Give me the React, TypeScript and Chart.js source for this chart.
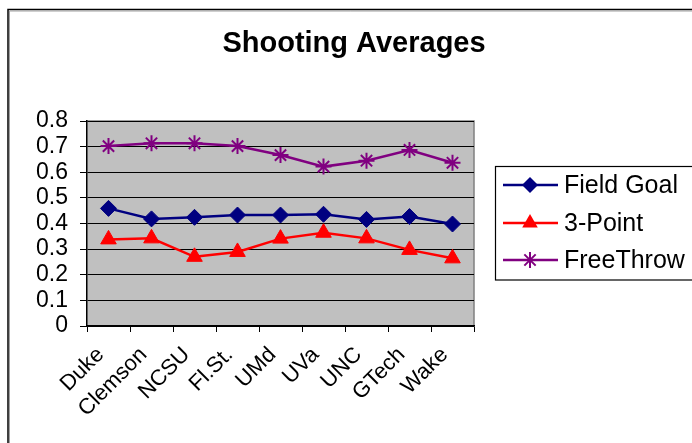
import React, { useEffect, useRef } from "react";
import { Chart, registerables } from "chart.js";

Chart.register(...registerables);

const categories = ["Duke", "Clemson", "NCSU", "Fl.St.", "UMd", "UVa", "UNC", "GTech", "Wake"];
const fieldGoal = [0.459, 0.418, 0.424, 0.433, 0.433, 0.436, 0.416, 0.427, 0.398];
const threePoint = [0.338, 0.342, 0.27, 0.289, 0.341, 0.364, 0.342, 0.297, 0.264];
const freeThrow = [0.702, 0.713, 0.713, 0.702, 0.667, 0.622, 0.645, 0.687, 0.637];
const seriesNames = ["Field Goal", "3-Point", "FreeThrow"];
const titleText = "Shooting Averages";

const FONT = "'Liberation Sans', Arial, Helvetica, sans-serif";

function drawMarker(ctx: CanvasRenderingContext2D, ds: any, x: number, y: number) {
  const r = ds.pointRadius;
  ctx.save();
  ctx.fillStyle = ds.pointBackgroundColor;
  ctx.strokeStyle = ds.pointBorderColor;
  ctx.lineWidth = ds.pointBorderWidth;
  ctx.beginPath();
  if (ds.pointStyle === "rectRot") {
    ctx.moveTo(x, y - r);
    ctx.lineTo(x + r, y);
    ctx.lineTo(x, y + r);
    ctx.lineTo(x - r, y);
    ctx.closePath();
    ctx.fill();
  } else if (ds.pointStyle === "triangle") {
    ctx.moveTo(x, y - r);
    ctx.lineTo(x + r * 0.866, y + r / 2);
    ctx.lineTo(x - r * 0.866, y + r / 2);
    ctx.closePath();
    ctx.fill();
  } else {
    for (let k = 0; k < 4; k++) {
      const a = (k * Math.PI) / 4;
      ctx.moveTo(x + Math.cos(a) * r, y + Math.sin(a) * r);
      ctx.lineTo(x - Math.cos(a) * r, y - Math.sin(a) * r);
    }
    ctx.stroke();
  }
  ctx.restore();
}

const framePlugin = {
  id: "frame",
  beforeDraw(chart: any) {
    const { ctx, chartArea } = chart;
    ctx.save();
    ctx.fillStyle = "#ffffff";
    ctx.fillRect(0, 0, chart.width, chart.height);
    ctx.strokeStyle = "#000000";
    ctx.lineWidth = 1.5;
    ctx.beginPath();
    ctx.moveTo(8, chart.height);
    ctx.lineTo(8, 9.5);
    ctx.lineTo(chart.width, 9.5);
    ctx.stroke();
    ctx.strokeStyle = "#a0a0a0";
    ctx.lineWidth = 1;
    ctx.beginPath();
    ctx.moveTo(9.5, chart.height);
    ctx.lineTo(9.5, 11);
    ctx.lineTo(chart.width, 11);
    ctx.stroke();
    ctx.fillStyle = "#c0c0c0";
    ctx.fillRect(chartArea.left, chartArea.top, chartArea.right - chartArea.left, chartArea.bottom - chartArea.top);
    ctx.strokeStyle = "#808080";
    ctx.lineWidth = 1.5;
    ctx.beginPath();
    ctx.moveTo(chartArea.left, chartArea.top);
    ctx.lineTo(chartArea.right, chartArea.top);
    ctx.lineTo(chartArea.right, chartArea.bottom);
    ctx.stroke();
    ctx.fillStyle = "#000000";
    ctx.font = `bold 29px ${FONT}`;
    ctx.textAlign = "center";
    ctx.textBaseline = "middle";
    ctx.fillText(titleText, 354, 44);
    ctx.restore();
  },
  afterDraw(chart: any) {
    const { ctx } = chart;
    ctx.save();
    ctx.strokeStyle = "#000000";
    ctx.lineWidth = 1.2;
    ctx.strokeRect(495.5, 166.5, 300, 113.5);
    const rows = [185, 223, 260];
    chart.data.datasets.forEach((ds: any, i: number) => {
      const y = rows[i];
      ctx.strokeStyle = ds.borderColor;
      ctx.lineWidth = 2.5;
      ctx.beginPath();
      ctx.moveTo(503, y);
      ctx.lineTo(558, y);
      ctx.stroke();
      drawMarker(ctx, ds, 530, y);
      ctx.fillStyle = "#000000";
      ctx.font = `25px ${FONT}`;
      ctx.textAlign = "left";
      ctx.textBaseline = "middle";
      ctx.fillText(ds.label, 564, y + 1);
    });
    ctx.restore();
  },
};

export default function App() {
  const ref = useRef<HTMLCanvasElement | null>(null);
  useEffect(() => {
    if (!ref.current) return;
    const chart = new Chart(ref.current, {
      type: "line",
      data: {
        labels: categories,
        datasets: [
          {
            label: seriesNames[0],
            data: fieldGoal,
            borderColor: "#000080",
            backgroundColor: "#000080",
            borderWidth: 2.5,
            pointStyle: "rectRot",
            pointRadius: 8,
            pointBackgroundColor: "#000080",
            pointBorderColor: "#000080",
            pointBorderWidth: 1,
            tension: 0,
          },
          {
            label: seriesNames[1],
            data: threePoint,
            borderColor: "#ff0000",
            backgroundColor: "#ff0000",
            borderWidth: 2.5,
            pointStyle: "triangle",
            pointRadius: 9,
            pointBackgroundColor: "#ff0000",
            pointBorderColor: "#ff0000",
            pointBorderWidth: 1,
            tension: 0,
          },
          {
            label: seriesNames[2],
            data: freeThrow,
            borderColor: "#800080",
            backgroundColor: "#800080",
            borderWidth: 2.5,
            pointStyle: "star",
            pointRadius: 8,
            pointBackgroundColor: "#800080",
            pointBorderColor: "#800080",
            pointBorderWidth: 2,
            tension: 0,
          },
        ],
      },
      options: {
        animation: false,
        responsive: false,
        devicePixelRatio: 1,
        layout: { padding: { top: 121, right: 218, left: 0, bottom: 0 } },
        plugins: {
          legend: { display: false },
          title: { display: false },
          tooltip: { enabled: false },
        },
        scales: {
          x: {
            type: "category",
            offset: true,
            grid: {
              offset: true,
              drawOnChartArea: false,
              drawTicks: true,
              tickLength: 6,
              color: "#000000",
              lineWidth: 1,
            },
            border: { color: "#000000", width: 1.5 },
            ticks: {
              color: "#000000",
              font: { family: FONT, size: 22 },
              minRotation: 45,
              maxRotation: 45,
              padding: 10,
              labelOffset: -8,
              autoSkip: false,
            },
            afterFit: (s: any) => {
              s.height = 117;
            },
          },
          y: {
            min: 0,
            max: 0.8,
            grid: {
              color: "#000000",
              lineWidth: 1,
              drawTicks: true,
              tickLength: 7,
            },
            border: { color: "#000000", width: 1.5 },
            ticks: {
              stepSize: 0.1,
              autoSkip: false,
              color: "#000000",
              font: { family: FONT, size: 23 },
              padding: 12,
              callback: (v: any) => String(Number(Number(v).toFixed(1))),
            },
            afterFit: (s: any) => {
              s.width = 87;
            },
          },
        },
      },
      plugins: [framePlugin],
    });
    return () => chart.destroy();
  }, []);
  return (
    <div style={{ position: "fixed", left: 0, top: 0, width: 692, height: 443, background: "#fff" }}>
      <canvas ref={ref} width={692} height={443} style={{ width: 692, height: 443, display: "block" }} />
    </div>
  );
}
